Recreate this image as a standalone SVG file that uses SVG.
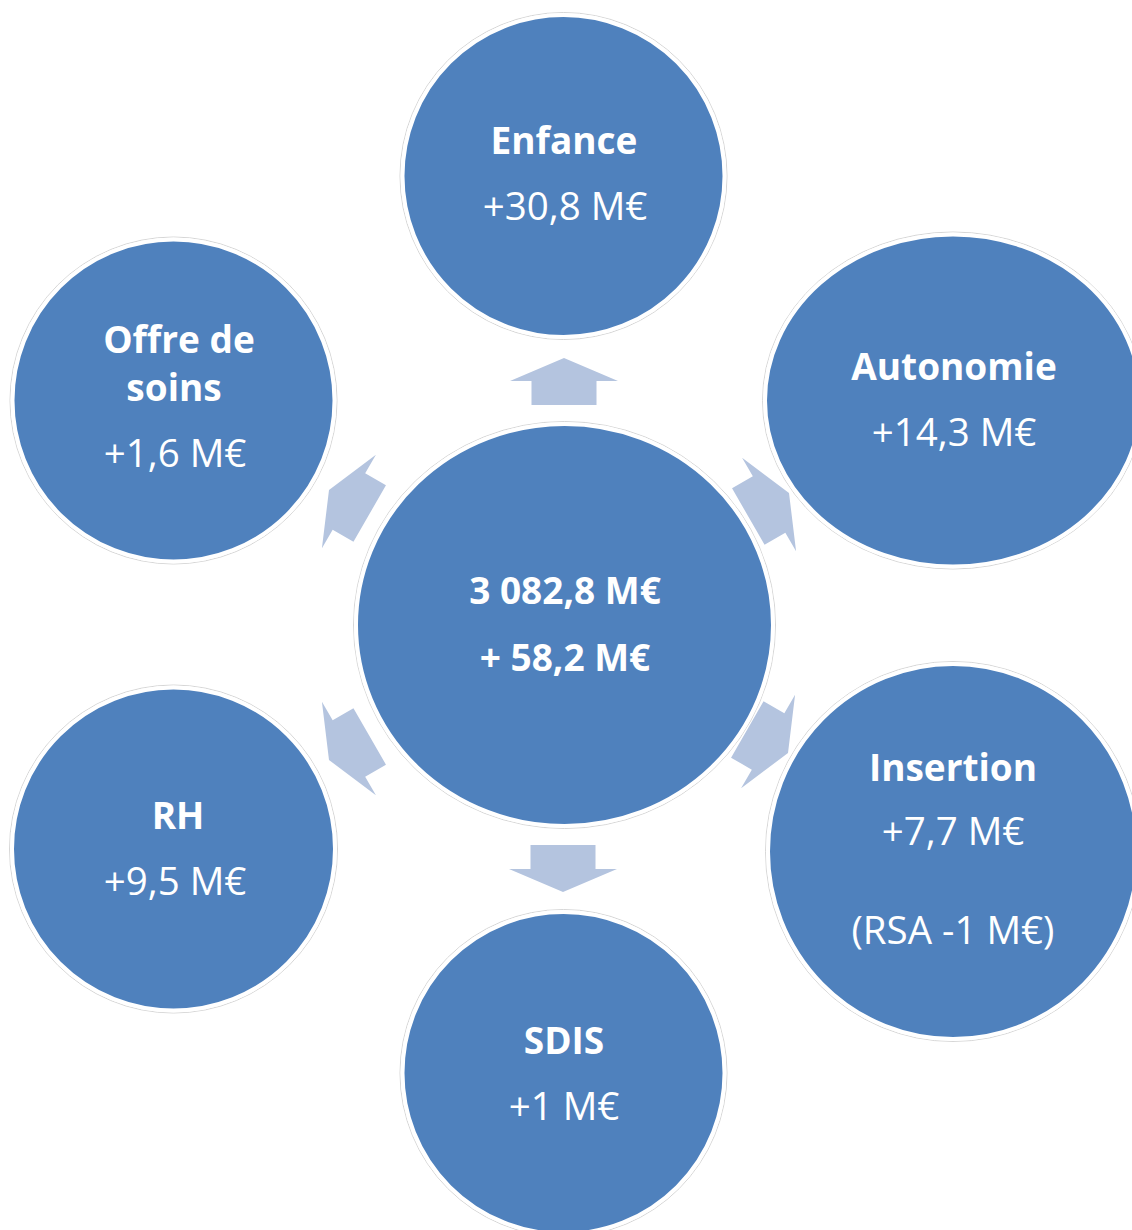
<svg xmlns="http://www.w3.org/2000/svg" width="1132" height="1230" viewBox="0 0 1132 1230">
<defs>
<style>
.bg{fill:#ffffff}
.arrow{fill:#B4C4DF}
.halo{fill:none;stroke:#d6d6d6;stroke-width:1}
.node{fill:#4F81BD;stroke:#ffffff;stroke-width:4}
.b{font-family:"Open Sans","Liberation Sans",sans-serif;font-weight:bold;font-size:37px;fill:#ffffff;text-anchor:middle}
.r{font-family:"Open Sans","Liberation Sans",sans-serif;font-size:38.5px;fill:#ffffff;text-anchor:middle}
</style>
<polygon id="arr" points="0,0 54,23 32.5,23 32.5,47 -32.5,47 -32.5,23 -54,23"/>
</defs>
<rect class="bg" x="0" y="0" width="1132" height="1230"/>
<g id="connectors">
<use href="#arr" class="arrow" transform="translate(564,358)"/>
<use href="#arr" class="arrow" transform="translate(563,892) rotate(180)"/>
<use href="#arr" class="arrow" transform="translate(789,493) rotate(60)"/>
<use href="#arr" class="arrow" transform="translate(788,753) rotate(120)"/>
<use href="#arr" class="arrow" transform="translate(329,760) rotate(240)"/>
<use href="#arr" class="arrow" transform="translate(329,490) rotate(300)"/>
</g>
<g id="node-center">
<ellipse class="halo" cx="564.5" cy="625" rx="211" ry="203.5"/>
<ellipse class="node" cx="564.5" cy="625" rx="208.5" ry="201"/>
<text class="b" x="565" y="604">3 082,8 M€</text>
<text class="b" x="565" y="671">+ 58,2 M€</text>
</g>
<g id="node-enfance">
<circle class="halo" cx="563.5" cy="176" r="163.5"/>
<circle class="node" cx="563.5" cy="176" r="161"/>
<text class="b" x="564" y="154">Enfance</text>
<text class="r" x="565" y="220">+30,8 M€</text>
</g>
<g id="node-autonomie">
<ellipse class="halo" cx="953" cy="400.5" rx="190.5" ry="168.5"/>
<ellipse class="node" cx="953" cy="400.5" rx="188" ry="166"/>
<text class="b" x="954" y="380">Autonomie</text>
<text class="r" x="954" y="446">+14,3 M€</text>
</g>
<g id="node-insertion">
<ellipse class="halo" cx="953" cy="851.5" rx="187.5" ry="190"/>
<ellipse class="node" cx="953" cy="851.5" rx="185" ry="187.5"/>
<text class="b" x="953" y="781">Insertion</text>
<text class="r" x="953" y="845">+7,7 M€</text>
<text class="r" x="953" y="944">(RSA -1 M€)</text>
</g>
<g id="node-sdis">
<circle class="halo" cx="563.5" cy="1073" r="163.5"/>
<circle class="node" cx="563.5" cy="1073" r="161"/>
<text class="b" x="564" y="1054">SDIS</text>
<text class="r" x="564" y="1120">+1 M€</text>
</g>
<g id="node-rh">
<circle class="halo" cx="173.5" cy="849" r="164"/>
<circle class="node" cx="173.5" cy="849" r="161.5"/>
<text class="b" x="178" y="829">RH</text>
<text class="r" x="175" y="895">+9,5 M€</text>
</g>
<g id="node-offre">
<circle class="halo" cx="173.5" cy="400.5" r="163.5"/>
<circle class="node" cx="173.5" cy="400.5" r="161"/>
<text class="b" x="179" y="353">Offre de</text>
<text class="b" x="174" y="401">soins</text>
<text class="r" x="175" y="467">+1,6 M€</text>
</g>
</svg>
